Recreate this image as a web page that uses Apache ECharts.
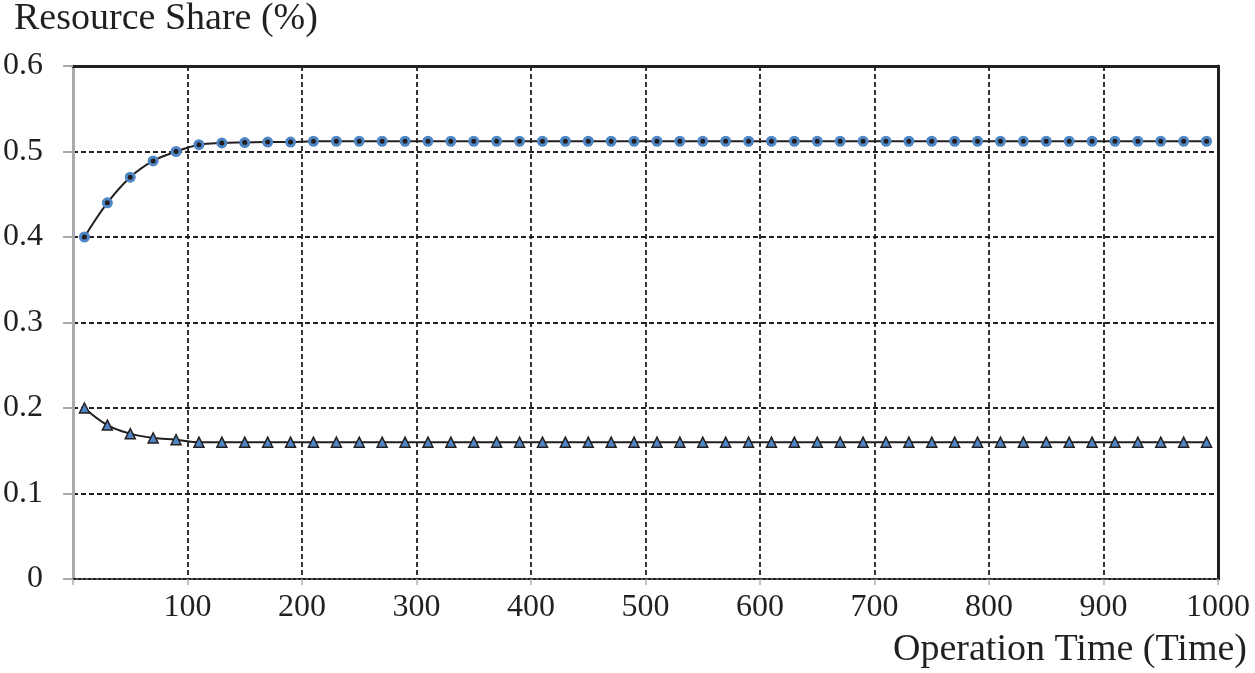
<!DOCTYPE html>
<html>
<head>
<meta charset="utf-8">
<script src="https://cdn.jsdelivr.net/npm/echarts@6/dist/echarts.min.js"></script>
<style>
  html, body { margin: 0; padding: 0; background: #fff; }
  #chart { width: 1255px; height: 673px; }
</style>
</head>
<body>
<div id="chart"></div>
<script>
// operation time of each sample
var times = [10, 30, 50, 70, 90, 110, 130, 150, 170, 190,
             210, 230, 250, 270, 290, 310, 330, 350, 370, 390,
             410, 430, 450, 470, 490, 510, 530, 550, 570, 590,
             610, 630, 650, 670, 690, 710, 730, 750, 770, 790,
             810, 830, 850, 870, 890, 910, 930, 950, 970, 990];
// upper curve (circles)
var shareHigh = [0.400, 0.440, 0.470, 0.489, 0.500, 0.508, 0.510, 0.5105, 0.511, 0.511,
                 0.512, 0.512, 0.512, 0.512, 0.512, 0.512, 0.512, 0.512, 0.512, 0.512,
                 0.512, 0.512, 0.512, 0.512, 0.512, 0.512, 0.512, 0.512, 0.512, 0.512,
                 0.512, 0.512, 0.512, 0.512, 0.512, 0.512, 0.512, 0.512, 0.512, 0.512,
                 0.512, 0.512, 0.512, 0.512, 0.512, 0.512, 0.512, 0.512, 0.512, 0.512];
// lower curve (triangles)
var shareLow = [0.200, 0.180, 0.170, 0.165, 0.163, 0.160, 0.160, 0.160, 0.160, 0.160,
                0.160, 0.160, 0.160, 0.160, 0.160, 0.160, 0.160, 0.160, 0.160, 0.160,
                0.160, 0.160, 0.160, 0.160, 0.160, 0.160, 0.160, 0.160, 0.160, 0.160,
                0.160, 0.160, 0.160, 0.160, 0.160, 0.160, 0.160, 0.160, 0.160, 0.160,
                0.160, 0.160, 0.160, 0.160, 0.160, 0.160, 0.160, 0.160, 0.160, 0.160];
var xTitle = 'Operation Time (Time)';
var yTitle = 'Resource Share (%)';

var font = '"Liberation Serif", "DejaVu Serif", serif';
var ink = '#231f20';
var chart = echarts.init(document.getElementById('chart'));

function pairs(xs, ys) {
    return xs.map(function (x, i) { return [x, ys[i]]; });
}

var option = {
    backgroundColor: '#fff',
    animation: false,
    graphic: [{
        type: 'text',
        left: 14,
        top: 0,
        style: { text: yTitle, font: '38px ' + font, fill: ink }
    }, {
        type: 'text',
        right: 8,
        top: 631,
        style: { text: xTitle, font: '38px ' + font, fill: ink }
    }],
    grid: {
        left: 73,
        right: 37,
        top: 66,
        bottom: 94
    },
    xAxis: [{
        type: 'value',
        min: 0,
        max: 1000,
        interval: 100,
        axisLine: { onZero: false, lineStyle: { color: ink, width: 2, type: [3, 2] } },
        axisTick: { show: true, length: 6, lineStyle: { color: '#b0b0b0', width: 1.5 } },
        axisLabel: {
            margin: 13,
            fontFamily: font,
            fontSize: 32,
            color: ink,
            formatter: function (v) { return v === 0 ? '' : v; }
        },
        splitLine: {
            show: true,
            showMinLine: false,
            showMaxLine: false,
            lineStyle: { color: ink, width: 1.8, type: [5, 3] }
        }
    }, {
        // top frame line
        type: 'value',
        position: 'top',
        min: 0,
        max: 1000,
        axisLine: { show: true, onZero: false, lineStyle: { color: ink, width: 3 } },
        axisTick: { show: false },
        axisLabel: { show: false },
        splitLine: { show: false }
    }],
    yAxis: [{
        type: 'value',
        min: 0,
        max: 0.6,
        interval: 0.1,
        axisLine: { show: true, onZero: false, lineStyle: { color: '#a7a9ac', width: 3 } },
        axisTick: { show: true, length: 10, lineStyle: { color: '#a7a9ac', width: 2 } },
        axisLabel: {
            margin: 30,
            fontFamily: font,
            fontSize: 32,
            color: ink
        },
        splitLine: {
            show: true,
            showMinLine: false,
            showMaxLine: false,
            lineStyle: { color: ink, width: 1.8, type: [5, 3] }
        }
    }, {
        // right frame line
        type: 'value',
        position: 'right',
        min: 0,
        max: 0.6,
        axisLine: { show: true, onZero: false, lineStyle: { color: ink, width: 3 } },
        axisTick: { show: false },
        axisLabel: { show: false },
        splitLine: { show: false }
    }],
    series: [{
        name: 'High',
        type: 'line',
        smooth: 0.4,
        data: pairs(times, shareHigh),
        symbol: 'circle',
        symbolSize: 8,
        lineStyle: { color: ink, width: 2 },
        itemStyle: { color: ink, borderColor: '#4f86c6', borderWidth: 3 },
        z: 5
    }, {
        name: 'Low',
        type: 'line',
        smooth: 0.4,
        data: pairs(times, shareLow),
        symbol: 'triangle',
        symbolSize: 10,
        lineStyle: { color: ink, width: 2 },
        itemStyle: { color: '#4f86c6', borderColor: ink, borderWidth: 1.5 },
        z: 5
    }]
};
chart.setOption(option);
</script>
</body>
</html>
